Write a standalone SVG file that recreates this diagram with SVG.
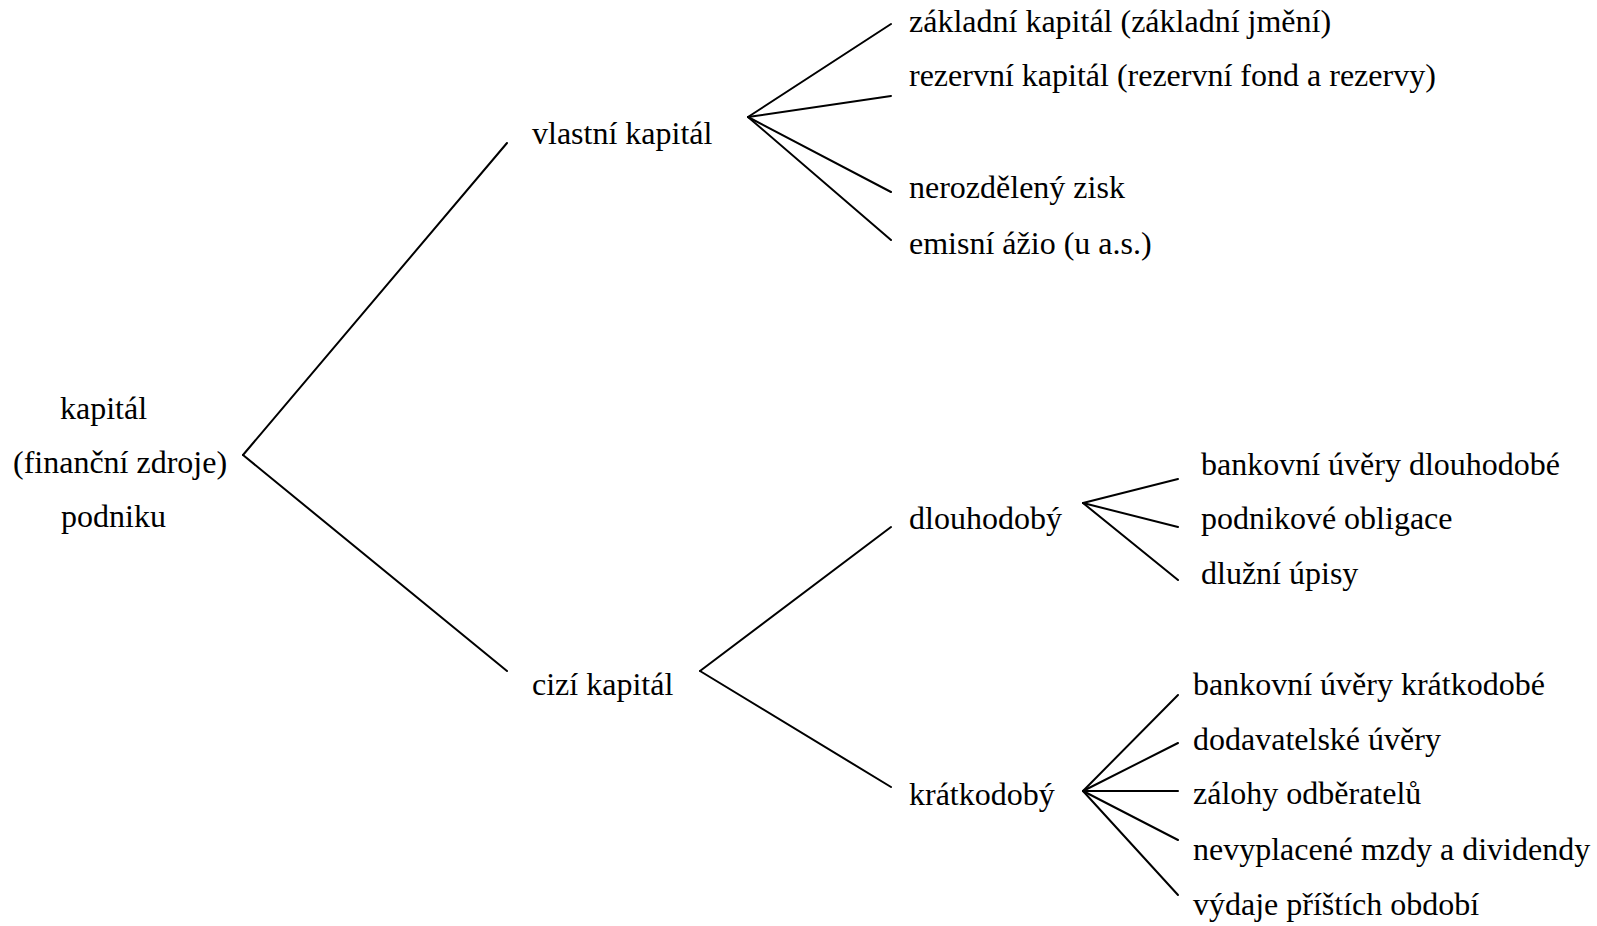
<svg xmlns="http://www.w3.org/2000/svg" width="1597" height="926" viewBox="0 0 1597 926">
<style>
text{font-family:'Liberation Serif','Times New Roman',Times,serif;font-size:32px;fill:#000}
.c line{stroke:#000;stroke-width:2;stroke-linecap:round}
</style>
<rect width="1597" height="926" fill="#fff"/>
<g id="connectors" class="c">
<line x1="243" y1="455" x2="507" y2="143"/>
<line x1="243" y1="455" x2="507" y2="671"/>
<line x1="748" y1="117" x2="891" y2="24"/>
<line x1="748" y1="117" x2="891" y2="96"/>
<line x1="748" y1="117" x2="891" y2="192"/>
<line x1="748" y1="117" x2="891" y2="240"/>
<line x1="700" y1="671" x2="891" y2="527"/>
<line x1="700" y1="671" x2="891" y2="787"/>
<line x1="1083" y1="503" x2="1178" y2="479"/>
<line x1="1083" y1="503" x2="1178" y2="527"/>
<line x1="1083" y1="503" x2="1178" y2="580"/>
<line x1="1083" y1="791" x2="1178" y2="695"/>
<line x1="1083" y1="791" x2="1178" y2="743"/>
<line x1="1083" y1="791" x2="1178" y2="791"/>
<line x1="1083" y1="791" x2="1178" y2="840"/>
<line x1="1083" y1="791" x2="1178" y2="895"/>
</g>
<g font-family="Liberation Serif, serif" font-size="32">
<g id="root"><text x="60" y="419">kapitál</text><text x="13" y="473">(finanční zdroje)</text><text x="61" y="527">podniku</text></g>
<g id="vlastni"><text x="532" y="144">vlastní kapitál</text></g>
<g id="cizi"><text x="532" y="695">cizí kapitál</text></g>
<g id="zakladni"><text x="909" y="32">základní kapitál (základní jmění)</text></g>
<g id="rezervni"><text x="909" y="86">rezervní kapitál (rezervní fond a rezervy)</text></g>
<g id="nerozdeleny"><text x="909" y="198">nerozdělený zisk</text></g>
<g id="emisni"><text x="909" y="254">emisní ážio (u a.s.)</text></g>
<g id="dlouhodoby"><text x="909" y="529">dlouhodobý</text></g>
<g id="kratkodoby"><text x="909" y="805">krátkodobý</text></g>
<g id="bud"><text x="1201" y="475">bankovní úvěry dlouhodobé</text></g>
<g id="obligace"><text x="1201" y="529">podnikové obligace</text></g>
<g id="upisy"><text x="1201" y="584">dlužní úpisy</text></g>
<g id="buk"><text x="1193" y="695">bankovní úvěry krátkodobé</text></g>
<g id="dodavatelske"><text x="1193" y="750">dodavatelské úvěry</text></g>
<g id="zalohy"><text x="1193" y="804">zálohy odběratelů</text></g>
<g id="mzdy"><text x="1193" y="860">nevyplacené mzdy a dividendy</text></g>
<g id="vydaje"><text x="1193" y="915">výdaje příštích období</text></g>
</g>
</svg>
